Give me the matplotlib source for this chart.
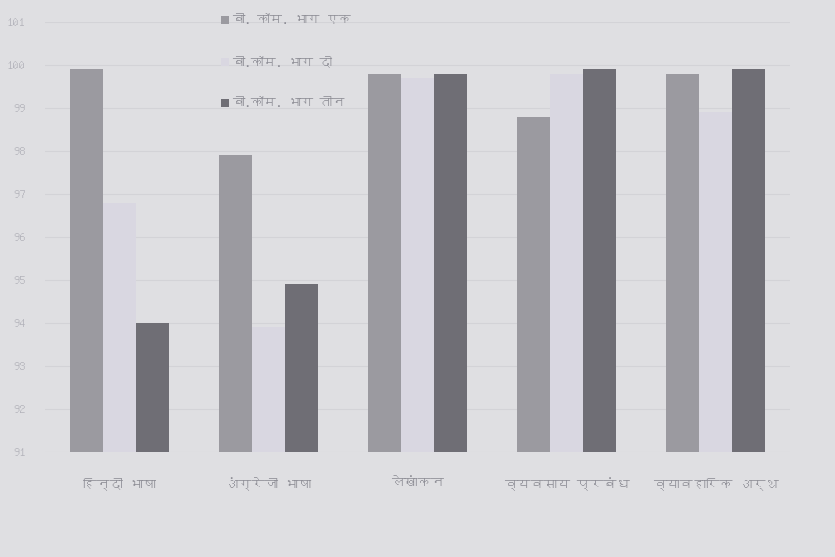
import matplotlib
matplotlib.use("Agg")
import matplotlib.pyplot as plt
from matplotlib import font_manager
from matplotlib.ft2font import FT2Font
import numpy as np

categories = ["हिन्दी भाषा", "अंग्रेजी भाषा", "लेखांकन", "व्यवसाय प्रबंध", "व्यावहारिक अर्थ"]
series_names = ["बी. कॉम. भाग एक", "बी.कॉम. भाग दो", "बी.कॉम. भाग तीन"]
part1 = [99.9, 97.9, 99.8, 98.8, 99.8]
part2 = [96.8, 93.9, 99.7, 99.8, 98.9]
part3 = [94.0, 94.9, 99.8, 99.9, 99.9]
yticks = [91, 92, 93, 94, 95, 96, 97, 98, 99, 100, 101]

# find a font with Devanagari glyphs
preferred = []
for f in font_manager.fontManager.ttflist:
    try:
        ft = FT2Font(f.fname)
        cmap = ft.get_charmap()
        if 0x0915 in cmap and 0x093F in cmap:
            preferred.append(f.name)
    except Exception:
        pass
families = []
for name in preferred:
    if name not in families:
        families.append(name)
font_list = families[:1] + ["DejaVu Sans"] if families else ["DejaVu Sans"]
plt.rcParams["font.family"] = font_list

bg = "#dfdfe2"
colors = ["#9b9aa0", "#d9d7e1", "#6f6e75"]
text_color = "#8e8e96"

fig = plt.figure(figsize=(8.35, 5.57), dpi=100, facecolor=bg)
ax = fig.add_axes([45/835, 1 - 452/557, 745/835, (452 - 22)/557])
ax.set_facecolor(bg)

x = np.arange(len(categories))
w = 0.22
for i, (vals, name, c) in enumerate(zip([part1, part2, part3], series_names, colors)):
    ax.bar(x + (i - 1) * w, np.array(vals) - 91, width=w, bottom=91, color=c,
           label=name, zorder=3)

ax.set_ylim(91, 101)
ax.set_xlim(-0.5, 4.5)
ax.set_yticks(yticks)
ax.set_yticklabels([str(t) for t in yticks], color="#b2b2ba", fontsize=9)
ax.set_xticks(x)
ax.set_xticklabels(categories, color=text_color, fontsize=9.5)
ax.tick_params(axis="both", length=0)
ax.tick_params(axis="x", pad=18)
ax.tick_params(axis="y", pad=14)
ax.yaxis.grid(True, color="#d3d3d7", linewidth=0.8, zorder=0)
for s in ax.spines.values():
    s.set_visible(False)

leg = fig.legend(loc="upper left", bbox_to_anchor=(210/835, 1 - 3/557), frameon=False,
                 handlelength=0.6, handleheight=0.6, handletextpad=0.3,
                 labelspacing=2.4, fontsize=9)
for t in leg.get_texts():
    t.set_color(text_color)

fig.savefig("out.png", dpi=100, facecolor=bg)
